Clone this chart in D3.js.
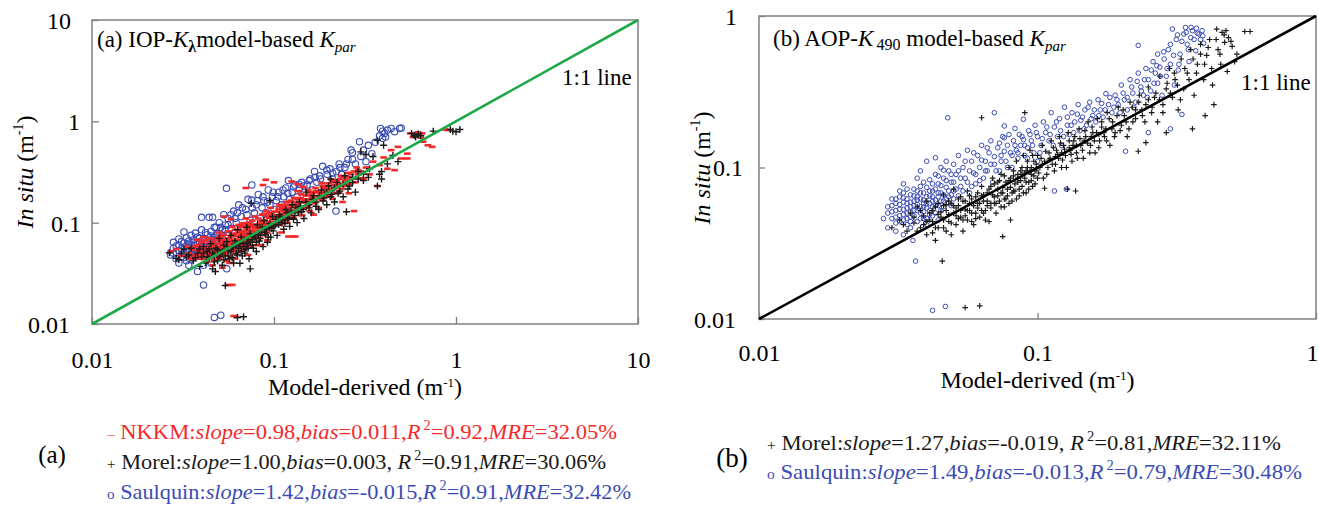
<!DOCTYPE html>
<html>
<head>
<meta charset="utf-8">
<script src="https://cdn.jsdelivr.net/npm/d3@7/dist/d3.min.js"></script>
<style>
  html, body { margin: 0; padding: 0; background: #fff; }
  svg { display: block; font-family: "Liberation Serif", "Times New Roman", serif; }
</style>
</head>
<body>
<svg id="chart" width="1319" height="510"></svg>
<script>
// ---------- Panel (a): IOP-Kλ model-based Kpar, [model-derived, in situ] ----------
const nkkmA = [
  [0.027,0.052],[0.029,0.055],[0.031,0.047],[0.033,0.058],[0.034,0.050],[0.035,0.044],
  [0.036,0.054],[0.037,0.048],[0.038,0.060],[0.039,0.044],[0.040,0.052],[0.041,0.047],[0.042,0.058],[0.043,0.041],[0.044,0.050],[0.044,0.063],[0.045,0.046],[0.038,0.068],[0.041,0.072],[0.043,0.055],
  [0.046,0.053],[0.047,0.043],[0.047,0.061],[0.048,0.049],[0.049,0.056],[0.049,0.068],[0.050,0.045],[0.051,0.052],[0.051,0.074],[0.052,0.059],[0.053,0.048],[0.053,0.065],[0.054,0.055],[0.055,0.042],[0.055,0.062],[0.046,0.038],[0.050,0.080],[0.052,0.036],
  [0.056,0.050],[0.056,0.070],[0.057,0.058],[0.058,0.046],[0.058,0.064],[0.059,0.053],[0.060,0.077],[0.060,0.060],[0.061,0.049],[0.062,0.067],[0.062,0.056],[0.063,0.085],[0.064,0.061],[0.064,0.052],[0.065,0.072],[0.057,0.040],[0.059,0.091],[0.061,0.044],
  [0.066,0.058],[0.067,0.066],[0.067,0.080],[0.068,0.054],[0.069,0.072],[0.070,0.062],[0.071,0.088],[0.072,0.068],[0.073,0.058],[0.074,0.076],[0.075,0.095],[0.076,0.065],[0.077,0.083],[0.078,0.071],[0.079,0.060],[0.068,0.099],[0.070,0.110],[0.072,0.048],
  [0.081,0.078],[0.082,0.092],[0.083,0.070],[0.084,0.104],[0.086,0.085],[0.087,0.075],[0.088,0.098],[0.090,0.088],[0.091,0.115],[0.092,0.080],[0.094,0.096],[0.095,0.125],[0.097,0.090],[0.098,0.108],[0.085,0.060],[0.092,0.067],[0.096,0.140],[0.088,0.122],
  [0.101,0.098],[0.103,0.118],[0.105,0.105],[0.106,0.135],[0.108,0.095],[0.110,0.122],[0.112,0.110],[0.114,0.150],[0.116,0.128],[0.118,0.100],[0.120,0.140],[0.122,0.118],[0.124,0.165],[0.126,0.132],[0.128,0.112],[0.120,0.073],[0.127,0.073],[0.110,0.080],
  [0.132,0.148],[0.135,0.128],[0.138,0.170],[0.140,0.140],[0.143,0.118],[0.146,0.158],[0.150,0.185],[0.153,0.145],[0.157,0.130],[0.160,0.170],[0.164,0.200],[0.168,0.155],[0.172,0.182],[0.176,0.140],[0.135,0.205],[0.145,0.225],[0.165,0.120],
  [0.182,0.195],[0.186,0.165],[0.190,0.220],[0.195,0.180],[0.200,0.245],[0.205,0.205],[0.210,0.172],[0.215,0.235],[0.222,0.260],[0.228,0.200],[0.235,0.215],[0.242,0.280],[0.250,0.235],[0.258,0.195],[0.238,0.160],
  [0.265,0.300],[0.275,0.130],[0.280,0.250],[0.290,0.330],[0.300,0.275],[0.310,0.270],[0.320,0.350],[0.335,0.300],[0.350,0.400],[0.370,0.230],[0.380,0.370],[0.400,0.440],[0.420,0.340],[0.440,0.520],[0.460,0.330],
  [0.500,0.430],[0.540,0.430],[0.560,0.760],[0.580,0.700],[0.600,0.730],[0.620,0.780],[0.640,0.690],[0.660,0.630],[0.700,0.580],[0.740,0.560],[0.650,0.760],[0.870,0.830],[0.900,0.820],[0.540,0.480],[0.480,0.560],
  [0.056,0.0243],[0.059,0.0243],[0.060,0.0120],[0.062,0.0117],[0.087,0.235],[0.070,0.220],[0.131,0.073],
  [0.090,0.265],[0.100,0.250],[0.125,0.255],[0.135,0.240],[0.053,0.115],[0.058,0.108],
  [0.036,0.047],[0.037,0.058],[0.038,0.045],[0.039,0.053],[0.040,0.064],[0.040,0.049],[0.041,0.056],[0.042,0.044],[0.042,0.067],[0.043,0.050],[0.044,0.057],[0.045,0.070],[0.045,0.054],[0.046,0.048],[0.046,0.064],[0.047,0.058],[0.047,0.052],[0.048,0.067],[0.048,0.044],[0.049,0.061],
  [0.049,0.050],[0.050,0.057],[0.050,0.072],[0.051,0.047],[0.051,0.063],[0.052,0.054],[0.052,0.068],[0.053,0.058],[0.053,0.076],[0.054,0.050],[0.054,0.062],[0.055,0.070],[0.055,0.055],[0.056,0.060],[0.056,0.082],[0.057,0.066],[0.057,0.052],[0.058,0.073],[0.058,0.057],[0.059,0.062],
  [0.059,0.078],[0.060,0.054],[0.060,0.068],[0.061,0.085],[0.061,0.058],[0.062,0.074],[0.062,0.062],[0.063,0.053],[0.063,0.068],[0.064,0.080],[0.064,0.095],[0.065,0.058],[0.065,0.064],[0.066,0.076],[0.066,0.090],[0.067,0.060],[0.068,0.070],[0.068,0.083],[0.069,0.064],[0.069,0.094],
  [0.070,0.076],[0.070,0.068],[0.071,0.060],[0.071,0.080],[0.072,0.090],[0.072,0.075],[0.073,0.100],[0.073,0.066],[0.074,0.085],[0.075,0.072],[0.075,0.080],[0.076,0.105],[0.077,0.070],[0.077,0.092],[0.078,0.080],[0.078,0.115],[0.079,0.088],[0.080,0.070],[0.080,0.096],[0.082,0.082],
  [0.082,0.110],[0.083,0.088],[0.084,0.076],[0.085,0.098],[0.086,0.120],[0.087,0.090],[0.088,0.082],[0.089,0.105],[0.090,0.095],[0.091,0.130],[0.092,0.100],[0.093,0.088],[0.094,0.112],[0.096,0.102],[0.097,0.120],[0.099,0.095],[0.100,0.110],[0.102,0.128],[0.104,0.098],[0.106,0.118],
  [0.108,0.145],[0.110,0.108],[0.112,0.130],[0.115,0.118],[0.118,0.140],[0.121,0.160],[0.125,0.125],[0.130,0.160],[0.134,0.140],[0.140,0.175],[0.148,0.165],[0.155,0.200],[0.162,0.180],[0.170,0.205],[0.178,0.195],[0.185,0.230],[0.192,0.205],[0.200,0.215],[0.210,0.250],[0.220,0.230],
  [0.232,0.270],[0.245,0.250],[0.260,0.280],[0.275,0.320],[0.290,0.300],
  [0.100,0.128],[0.104,0.112],[0.107,0.150],[0.111,0.140],[0.115,0.108],[0.117,0.160],[0.119,0.125],[0.123,0.150],[0.127,0.145],[0.129,0.175],[0.133,0.155],[0.137,0.135],[0.141,0.190],[0.144,0.160],[0.148,0.140],[0.151,0.170],[0.154,0.210],[0.158,0.160],[0.161,0.190],[0.166,0.170],
  [0.169,0.220],[0.174,0.200],[0.179,0.170],[0.183,0.245],[0.188,0.210],[0.193,0.190],[0.198,0.230],[0.203,0.185],[0.207,0.265],[0.213,0.215],[0.219,0.195],[0.226,0.240],[0.233,0.290],[0.240,0.230],[0.248,0.265],[0.255,0.310],[0.262,0.240],[0.270,0.270],[0.285,0.350],[0.300,0.320]
];

const morelA = [
  [0.0266,0.0505],[0.029,0.0445],[0.031,0.050],[0.033,0.046],[0.035,0.056],[0.036,0.042],[0.038,0.050],[0.039,0.037],
  [0.040,0.046],[0.041,0.058],[0.042,0.040],[0.043,0.052],[0.044,0.045],[0.045,0.062],[0.046,0.035],[0.047,0.048],[0.048,0.056],[0.0476,0.033],[0.049,0.042],[0.050,0.070],[0.051,0.050],[0.052,0.038],[0.053,0.060],[0.054,0.024],[0.054,0.047],[0.055,0.065],
  [0.056,0.053],[0.057,0.044],[0.058,0.075],[0.059,0.058],[0.060,0.040],[0.061,0.066],[0.062,0.050],[0.063,0.085],[0.064,0.056],[0.065,0.0397],[0.066,0.072],[0.067,0.047],[0.068,0.063],[0.070,0.055],[0.071,0.090],[0.072,0.068],[0.073,0.044],[0.074,0.035],[0.074,0.078],[0.063,0.0116],[0.068,0.0118],
  [0.076,0.060],[0.078,0.072],[0.080,0.052],[0.081,0.095],[0.083,0.066],[0.085,0.080],[0.087,0.058],[0.088,0.105],[0.090,0.076],[0.092,0.064],[0.094,0.090],[0.096,0.072],[0.098,0.115],[0.099,0.083],
  [0.102,0.095],[0.104,0.075],[0.107,0.120],[0.110,0.100],[0.113,0.086],[0.116,0.135],[0.119,0.108],[0.122,0.092],[0.126,0.150],[0.130,0.118],[0.134,0.100],[0.138,0.160],[0.142,0.128],[0.146,0.110],[0.150,0.200],[0.075,0.155],[0.095,0.165],
  [0.155,0.150],[0.160,0.125],[0.165,0.185],[0.170,0.160],[0.176,0.135],[0.182,0.210],[0.188,0.175],[0.195,0.150],[0.200,0.230],[0.208,0.190],[0.215,0.160],[0.222,0.250],[0.230,0.205],[0.240,0.180],[0.250,0.128],[0.245,0.290],[0.205,0.270],
  [0.260,0.230],[0.270,0.280],[0.280,0.200],[0.290,0.320],[0.300,0.500],[0.310,0.260],[0.320,0.470],[0.335,0.340],[0.350,0.450],[0.370,0.230],[0.370,0.650],[0.380,0.300],[0.390,0.270],[0.390,0.320],[0.400,0.580],[0.420,0.380],[0.450,0.460],[0.480,0.400],
  [0.570,0.760],[0.590,0.730],[0.600,0.700],[0.620,0.750],[0.640,0.720],[0.930,0.830],[0.960,0.800],[1.000,0.790],[1.050,0.830],[0.750,0.800],
  [0.030,0.043],[0.032,0.055],[0.034,0.048],[0.037,0.045],[0.039,0.055],[0.041,0.050],[0.043,0.046],[0.044,0.055],[0.046,0.050],[0.047,0.041],[0.049,0.054],[0.050,0.046],[0.052,0.052],[0.053,0.043],[0.055,0.058],[0.056,0.047],[0.058,0.052],[0.059,0.045],[0.060,0.058],[0.062,0.060],
  [0.063,0.048],[0.065,0.062],[0.066,0.052],[0.068,0.058],[0.069,0.050],[0.071,0.062],[0.072,0.056],[0.074,0.064],[0.076,0.068],[0.077,0.056],[0.079,0.074],[0.080,0.064],[0.082,0.076],[0.084,0.070],[0.086,0.090],[0.089,0.080],[0.091,0.085],[0.093,0.072],[0.095,0.098],[0.097,0.088],
  [0.100,0.092],[0.103,0.108],[0.106,0.096],[0.109,0.115],[0.112,0.105],[0.115,0.098],[0.118,0.125],[0.121,0.112],[0.124,0.130],[0.128,0.108],[0.132,0.140],[0.136,0.125],[0.140,0.145],[0.145,0.135],[0.150,0.160],[0.156,0.140],[0.163,0.170],[0.170,0.145],[0.178,0.185],[0.186,0.165],
  [0.195,0.200],[0.205,0.180],[0.215,0.220],[0.225,0.195],[0.240,0.240],[0.255,0.215],[0.270,0.250],[0.290,0.270],[0.310,0.300],[0.330,0.280]
];

const saulquinA = [
  [0.027,0.048],[0.028,0.056],[0.028,0.064],[0.029,0.044],[0.029,0.051],[0.030,0.060],[0.030,0.069],[0.031,0.046],[0.031,0.055],[0.032,0.081],[0.032,0.050],[0.032,0.063],[0.033,0.042],[0.033,0.058],[0.033,0.071],[0.034,0.053],[0.034,0.047],[0.034,0.066],[0.035,0.060],[0.035,0.075],[0.035,0.043],
  [0.036,0.055],[0.036,0.068],[0.036,0.050],[0.037,0.062],[0.037,0.079],[0.037,0.046],[0.038,0.057],[0.038,0.072],[0.038,0.052],[0.039,0.065],[0.039,0.048],[0.040,0.060],[0.040,0.085],[0.040,0.113],[0.041,0.054],[0.041,0.070],[0.042,0.063],[0.042,0.049],[0.043,0.076],[0.043,0.058],
  [0.044,0.113],[0.044,0.067],[0.045,0.052],[0.045,0.082],[0.046,0.061],[0.046,0.113],[0.047,0.072],[0.047,0.056],[0.048,0.090],[0.048,0.065],[0.049,0.078],[0.050,0.060],[0.050,0.100],[0.051,0.070],[0.052,0.085],[0.053,0.120],[0.054,0.095],[0.055,0.075],[0.056,0.110],
  [0.030,0.040],[0.034,0.038],[0.038,0.033],[0.041,0.038],[0.045,0.040],[0.055,0.035],
  [0.0548,0.218],[0.041,0.0243],[0.047,0.0116],[0.051,0.0122],
  [0.058,0.088],[0.060,0.130],[0.062,0.100],[0.064,0.150],[0.066,0.115],[0.068,0.090],[0.070,0.135],[0.072,0.170],[0.074,0.105],[0.0755,0.236],[0.0755,0.167],[0.078,0.125],[0.080,0.150],[0.082,0.190],[0.084,0.110],[0.086,0.140],[0.088,0.165],[0.090,0.125],[0.093,0.210],[0.095,0.150],[0.098,0.180],[0.100,0.135],
  [0.103,0.165],[0.106,0.200],[0.110,0.150],[0.113,0.180],[0.116,0.220],[0.120,0.260],[0.122,0.170],[0.126,0.200],[0.130,0.235],[0.134,0.180],[0.138,0.215],[0.142,0.250],[0.147,0.200],[0.152,0.235],[0.158,0.270],[0.163,0.210],[0.167,0.320],[0.172,0.250],[0.178,0.290],[0.185,0.360],
  [0.190,0.230],[0.196,0.300],[0.203,0.340],[0.210,0.270],[0.219,0.130],[0.220,0.320],[0.228,0.380],[0.235,0.300],[0.245,0.350],[0.255,0.420],[0.265,0.520],[0.270,0.490],[0.280,0.380],[0.295,0.630],[0.300,0.450],[0.310,0.520],[0.320,0.400],[0.330,0.580],[0.345,0.480],[0.360,0.620],
  [0.385,0.850],[0.395,0.800],[0.405,0.760],[0.410,0.700],[0.420,0.820],[0.440,0.850],[0.460,0.790],[0.490,0.850],[0.500,0.860],[0.380,0.720],[0.395,0.680],
  [0.028,0.050],[0.029,0.059],[0.030,0.053],[0.031,0.065],[0.032,0.045],[0.033,0.054],[0.034,0.061],[0.035,0.050],[0.036,0.064],[0.036,0.046],[0.037,0.053],[0.038,0.062],[0.039,0.070],[0.039,0.057],[0.040,0.050],[0.041,0.062],[0.042,0.055],[0.042,0.080],[0.043,0.066],[0.044,0.058],
  [0.045,0.074],[0.046,0.068],[0.047,0.090],[0.048,0.075],[0.049,0.068],[0.051,0.090],[0.052,0.075],[0.054,0.085],[0.056,0.095],[0.058,0.120],[0.061,0.110],[0.063,0.125],[0.067,0.140],[0.071,0.120],[0.076,0.140],[0.081,0.165],[0.087,0.180],[0.092,0.160],[0.099,0.200],[0.105,0.180],
  [0.112,0.210],[0.119,0.195],[0.128,0.225],[0.137,0.240],[0.146,0.230],[0.156,0.260],[0.168,0.280],[0.180,0.270],[0.195,0.330],[0.210,0.310],[0.230,0.350],[0.250,0.380],[0.270,0.420]
];

// ---------- Panel (b): AOP-K490 model-based Kpar ----------
const morelB = [
  [0.030,0.040],[0.032,0.045],[0.034,0.038],[0.035,0.050],[0.036,0.043],[0.037,0.055],[0.038,0.040],[0.039,0.048],[0.040,0.060],[0.040,0.036],[0.041,0.045],[0.042,0.052],[0.043,0.033],[0.043,0.040],[0.044,0.058],[0.045,0.047],[0.0455,0.0241],[0.046,0.040],[0.046,0.066],[0.047,0.052],
  [0.048,0.044],[0.048,0.060],[0.049,0.036],[0.050,0.050],[0.050,0.072],[0.051,0.042],[0.052,0.056],[0.053,0.047],[0.053,0.064],[0.054,0.038],[0.055,0.053],[0.055,0.0119],[0.056,0.045],[0.056,0.070],[0.057,0.058],[0.058,0.050],[0.059,0.042],[0.060,0.064],[0.061,0.054],[0.062,0.0122],
  [0.062,0.047],[0.063,0.213],[0.063,0.075],[0.064,0.060],[0.065,0.052],[0.066,0.068],[0.067,0.044],[0.068,0.058],[0.069,0.085],[0.070,0.064],[0.071,0.050],[0.072,0.072],[0.073,0.060],[0.074,0.090],[0.075,0.035],[0.075,0.068],[0.076,0.055],[0.077,0.080],[0.078,0.065],[0.079,0.100],
  [0.080,0.045],[0.080,0.074],[0.081,0.060],[0.082,0.088],[0.083,0.070],[0.084,0.110],[0.085,0.080],[0.086,0.065],[0.087,0.095],[0.088,0.075],[0.089,0.120],[0.090,0.230],[0.090,0.085],[0.091,0.068],[0.092,0.100],[0.093,0.080],[0.094,0.130],[0.095,0.090],[0.096,0.075],[0.097,0.110],
  [0.098,0.095],[0.100,0.085],[0.100,0.120],[0.102,0.100],[0.104,0.140],[0.106,0.073],[0.106,0.110],[0.108,0.090],[0.110,0.125],[0.112,0.150],[0.113,0.105],[0.115,0.095],[0.117,0.130],[0.119,0.115],[0.120,0.160],[0.122,0.100],[0.124,0.140],[0.126,0.120],[0.128,0.072],[0.129,0.170],
  [0.131,0.130],[0.133,0.110],[0.135,0.150],[0.137,0.070],[0.138,0.125],[0.141,0.180],[0.143,0.140],[0.146,0.115],[0.149,0.160],[0.152,0.200],[0.155,0.140],[0.158,0.170],[0.161,0.125],[0.164,0.210],[0.167,0.150],[0.170,0.185],[0.174,0.160],[0.178,0.230],[0.182,0.140],[0.186,0.200],
  [0.190,0.170],[0.195,0.250],[0.200,0.190],[0.205,0.220],[0.210,0.160],[0.215,0.270],[0.220,0.200],[0.225,0.240],[0.230,0.128],[0.232,0.300],[0.238,0.220],[0.245,0.146],[0.245,0.260],[0.250,0.340],[0.257,0.230],[0.263,0.290],[0.270,0.200],[0.275,0.400],[0.282,0.260],[0.290,0.170],
  [0.290,0.330],[0.298,0.450],[0.305,0.290],[0.312,0.380],[0.320,0.240],[0.328,0.520],[0.335,0.330],[0.345,0.420],[0.355,0.600],[0.360,0.180],[0.365,0.300],[0.375,0.480],[0.385,0.650],[0.395,0.380],[0.400,0.220],[0.405,0.550],[0.415,0.700],[0.425,0.350],[0.430,0.260],[0.440,0.820],
  [0.445,0.600],[0.455,0.480],[0.460,0.780],[0.470,0.670],[0.480,0.430],[0.485,0.720],[0.500,0.630],[0.510,0.500],[0.555,0.790],[0.580,0.790],
  [0.033,0.042],[0.036,0.047],[0.038,0.052],[0.039,0.042],[0.041,0.050],[0.042,0.044],[0.043,0.055],[0.044,0.040],[0.045,0.051],[0.046,0.045],[0.047,0.057],[0.048,0.049],[0.049,0.043],[0.050,0.056],[0.051,0.048],[0.052,0.062],[0.053,0.052],[0.054,0.045],[0.055,0.060],[0.056,0.052],
  [0.057,0.065],[0.058,0.044],[0.059,0.056],[0.060,0.050],[0.061,0.068],[0.062,0.058],[0.063,0.052],[0.064,0.066],[0.065,0.045],[0.066,0.060],[0.067,0.072],[0.068,0.054],[0.069,0.066],[0.070,0.078],[0.071,0.058],[0.072,0.065],[0.073,0.082],[0.074,0.055],[0.075,0.074],[0.076,0.088],
  [0.077,0.062],[0.078,0.072],[0.079,0.058],[0.080,0.085],[0.081,0.068],[0.082,0.095],[0.083,0.078],[0.084,0.062],[0.085,0.090],[0.086,0.072],[0.087,0.082],[0.088,0.100],[0.089,0.068],[0.090,0.092],[0.091,0.080],[0.092,0.110],[0.093,0.072],[0.094,0.095],[0.095,0.082],[0.096,0.120],
  [0.097,0.088],[0.098,0.078],[0.099,0.105],[0.101,0.092],[0.103,0.115],[0.105,0.085],[0.107,0.128],[0.109,0.100],[0.111,0.115],[0.114,0.135],[0.116,0.105],[0.118,0.122],[0.121,0.145],[0.123,0.112],[0.125,0.132],[0.127,0.100],[0.130,0.150],[0.132,0.122],[0.134,0.140],[0.136,0.160],
  [0.139,0.115],[0.142,0.155],[0.145,0.130],[0.148,0.175],[0.151,0.145],[0.154,0.125],[0.157,0.185],[0.160,0.150],[0.163,0.170],[0.166,0.135],[0.170,0.200],[0.173,0.170],[0.177,0.150],[0.181,0.210],[0.185,0.180],[0.189,0.160],[0.193,0.220],[0.198,0.175],[0.203,0.240],[0.208,0.200],
  [0.213,0.180],[0.219,0.250],[0.225,0.210],[0.231,0.270],[0.237,0.240],[0.243,0.200],[0.250,0.280],[0.258,0.250],[0.266,0.310],[0.274,0.280],[0.282,0.230],[0.292,0.360],[0.300,0.310],[0.310,0.420],[0.318,0.350],[0.326,0.280],[0.338,0.450],[0.350,0.380],[0.362,0.520],[0.372,0.420],
  [0.385,0.560],[0.398,0.480],[0.410,0.620],[0.422,0.450],[0.438,0.700],[0.452,0.560],[0.468,0.750],[0.475,0.800],[0.495,0.680],[0.520,0.560],
  [0.037,0.038],[0.040,0.044],[0.042,0.037],[0.044,0.049],[0.046,0.056],[0.047,0.038],[0.049,0.058],[0.051,0.054],[0.052,0.046],[0.054,0.060],[0.055,0.048],[0.057,0.052],[0.058,0.062],[0.060,0.046],[0.061,0.058],[0.063,0.065],[0.064,0.050],[0.066,0.056],[0.068,0.075],[0.070,0.058],
  [0.072,0.080],[0.074,0.068],[0.076,0.062],[0.079,0.082],[0.082,0.070],[0.085,0.085],[0.088,0.090],[0.091,0.095],[0.095,0.100],[0.099,0.098],[0.104,0.105],[0.110,0.112],[0.116,0.118],[0.122,0.125],[0.130,0.135],[0.138,0.140],[0.147,0.150],[0.156,0.160],[0.166,0.165],[0.176,0.180]
];

const saulquinB = [
  [0.029,0.050],[0.030,0.046],[0.030,0.056],[0.031,0.043],[0.031,0.052],[0.031,0.062],[0.032,0.048],[0.032,0.057],[0.032,0.070],[0.033,0.045],[0.033,0.053],[0.033,0.063],[0.033,0.078],[0.034,0.050],[0.034,0.058],[0.034,0.042],[0.035,0.055],[0.035,0.066],[0.035,0.047],[0.036,0.060],
  [0.036,0.052],[0.036,0.072],[0.037,0.044],[0.037,0.057],[0.037,0.064],[0.038,0.050],[0.038,0.068],[0.038,0.095],[0.039,0.055],[0.039,0.061],[0.039,0.046],[0.040,0.074],[0.040,0.058],[0.040,0.110],[0.041,0.052],[0.041,0.065],[0.041,0.083],[0.042,0.060],[0.042,0.048],[0.042,0.070],
  [0.043,0.056],[0.043,0.090],[0.043,0.116],[0.044,0.064],[0.044,0.078],[0.045,0.052],[0.045,0.068],[0.045,0.100],[0.046,0.060],[0.046,0.085],[0.047,0.074],[0.047,0.110],[0.048,0.064],[0.048,0.095],[0.049,0.080],[0.049,0.056],[0.050,0.070],[0.050,0.105],
  [0.031,0.038],[0.033,0.036],[0.0357,0.033],[0.035,0.040],[0.040,0.042],[0.044,0.045],[0.028,0.046],[0.029,0.040],
  [0.0476,0.213],[0.0365,0.0241],[0.042,0.0114],[0.0467,0.0121],
  [0.051,0.090],[0.052,0.120],[0.053,0.075],[0.054,0.100],[0.055,0.085],[0.056,0.130],[0.057,0.068],[0.058,0.110],[0.059,0.092],[0.060,0.078],[0.061,0.120],[0.062,0.100],[0.063,0.140],[0.064,0.085],[0.065,0.110],[0.066,0.095],[0.067,0.125],[0.068,0.150],[0.069,0.080],[0.070,0.230],
  [0.070,0.105],[0.072,0.135],[0.073,0.095],[0.074,0.120],[0.075,0.160],[0.076,0.188],[0.076,0.157],[0.077,0.110],[0.078,0.140],[0.080,0.125],[0.081,0.100],[0.082,0.150],[0.083,0.181],[0.084,0.130],[0.085,0.115],[0.086,0.165],[0.087,0.140],[0.089,0.208],[0.089,0.153],[0.090,0.120],
  [0.092,0.135],[0.093,0.175],[0.095,0.150],[0.097,0.125],[0.098,0.190],[0.100,0.160],[0.100,0.110],[0.103,0.140],[0.105,0.200],[0.107,0.170],[0.110,0.150],[0.112,0.230],[0.115,0.185],[0.115,0.070],[0.118,0.160],[0.120,0.210],[0.122,0.140],[0.125,0.250],[0.127,0.072],[0.128,0.190],
  [0.130,0.165],[0.133,0.230],[0.136,0.200],[0.140,0.260],[0.142,0.175],[0.145,0.215],[0.148,0.240],[0.150,0.190],[0.154,0.270],[0.158,0.220],[0.162,0.200],[0.165,0.280],[0.168,0.240],[0.172,0.215],[0.176,0.307],[0.180,0.260],[0.185,0.230],[0.190,0.300],[0.195,0.260],[0.200,0.350],
  [0.205,0.280],[0.207,0.128],[0.210,0.240],[0.215,0.380],[0.220,0.310],[0.225,0.270],[0.230,0.640],[0.230,0.420],[0.235,0.340],[0.240,0.300],[0.245,0.450],[0.250,0.170],[0.250,0.380],[0.255,0.320],[0.260,0.500],[0.265,0.420],[0.270,0.560],[0.270,0.360],[0.275,0.460],[0.280,0.300],
  [0.285,0.520],[0.290,0.400],[0.295,0.600],[0.300,0.180],[0.300,0.480],[0.305,0.820],[0.310,0.350],[0.315,0.700],[0.320,0.440],[0.325,0.560],[0.330,0.224],[0.335,0.760],[0.340,0.840],[0.345,0.650],[0.350,0.500],[0.355,0.720],[0.360,0.800],[0.370,0.590],[0.375,0.770],[0.385,0.700],
  [0.390,0.800],[0.395,0.660],
  [0.029,0.055],[0.030,0.051],[0.030,0.062],[0.031,0.047],[0.031,0.058],[0.032,0.053],[0.032,0.064],[0.032,0.044],[0.033,0.049],[0.033,0.059],[0.033,0.068],[0.034,0.046],[0.034,0.054],[0.034,0.062],[0.034,0.072],[0.035,0.051],[0.035,0.059],[0.035,0.044],[0.036,0.056],[0.036,0.065],
  [0.036,0.048],[0.037,0.052],[0.037,0.061],[0.037,0.070],[0.037,0.085],[0.038,0.046],[0.038,0.055],[0.038,0.062],[0.038,0.075],[0.039,0.051],[0.039,0.058],[0.039,0.068],[0.039,0.080],[0.040,0.046],[0.040,0.054],[0.040,0.064],[0.041,0.049],[0.041,0.058],[0.041,0.070],[0.042,0.055],
  [0.042,0.064],[0.042,0.078],[0.043,0.050],[0.043,0.061],[0.043,0.072],[0.044,0.056],[0.044,0.068],[0.044,0.088],[0.045,0.060],[0.045,0.076],[0.046,0.055],[0.046,0.066],[0.046,0.096],[0.047,0.062],[0.047,0.082],[0.048,0.070],[0.048,0.058],[0.049,0.066],[0.049,0.090],[0.050,0.062],
  [0.050,0.080],[0.051,0.072],[0.052,0.065],[0.052,0.095],[0.053,0.085],[0.054,0.070],[0.055,0.110],[0.056,0.080],[0.057,0.095],[0.058,0.075],[0.059,0.125],[0.060,0.090],[0.062,0.082],[0.063,0.112],[0.065,0.095],[0.066,0.135],[0.068,0.105],[0.070,0.118],[0.071,0.095],[0.073,0.145],
  [0.074,0.110],[0.076,0.128],[0.078,0.100],[0.079,0.165],[0.081,0.120],[0.083,0.140],[0.085,0.125],[0.088,0.160],[0.090,0.140],[0.092,0.115],[0.094,0.165],[0.096,0.140],[0.099,0.170],[0.102,0.125],[0.104,0.155],[0.108,0.185],[0.111,0.165],[0.114,0.140],[0.117,0.200],[0.121,0.175],
  [0.124,0.160],[0.128,0.215],[0.132,0.190],[0.135,0.170],[0.139,0.225],[0.143,0.205],[0.147,0.180],[0.152,0.250],[0.156,0.210],[0.160,0.240],[0.166,0.220],[0.170,0.265],[0.175,0.240],[0.182,0.290],[0.188,0.250],[0.193,0.280],[0.198,0.230],[0.203,0.310],[0.210,0.290],[0.218,0.340],
  [0.222,0.250],[0.228,0.370],[0.236,0.320],[0.242,0.380],[0.248,0.290],[0.256,0.440],[0.262,0.360],[0.268,0.470],[0.276,0.400],[0.284,0.580],[0.292,0.450],[0.300,0.650],[0.308,0.550],[0.318,0.750],[0.322,0.480],[0.330,0.680],[0.342,0.780],[0.348,0.600],[0.356,0.840],[0.365,0.700],
  [0.372,0.830],[0.380,0.760],[0.392,0.740]
];

// Axis ticks (log decades) and 1:1 line ends
const ticksA = [0.01, 0.1, 1, 10];
const ticksB = [0.01, 0.1, 1];
const oneToOneA = [0.01, 10];
const oneToOneB = [0.01, 1];

// Statistics shown under each panel
const namesA  = ["NKKM", "Morel", "Saulquin"];
const slopesA = ["0.98", "1.00", "1.42"];
const biasesA = ["0.011", "0.003", "-0.015"];
const r2A     = ["0.92", "0.91", "0.91"];
const mreA    = ["32.05%", "30.06%", "32.42%"];

const namesB  = ["Morel", "Saulquin"];
const slopesB = ["1.27", "1.49"];
const biasesB = ["-0.019", "-0.013"];
const r2B     = ["0.81", "0.79"];
const mreB    = ["32.11%", "30.48%"];

// ---------- styles ----------
const RED = "#f42a2a", BLACK = "#1a1a1a", BLUE = "#3b4cb4", GREEN = "#1fa84a";
const FRAME = "#808080";
const FONT = '"Liberation Serif", "Times New Roman", serif';

const svg = d3.select("#chart");

function drawPanel(cfg) {
  const x = d3.scaleLog().domain(cfg.domain).range([cfg.left, cfg.right]);
  const y = d3.scaleLog().domain(cfg.domain).range([cfg.bottom, cfg.top]);
  const g = svg.append("g");

  // frame
  g.append("rect")
    .attr("x", cfg.left).attr("y", cfg.top)
    .attr("width", cfg.right - cfg.left).attr("height", cfg.bottom - cfg.top)
    .attr("fill", "none").attr("stroke", FRAME).attr("stroke-width", 1.5);

  // bottom axis: inward ticks
  const gx = g.append("g")
    .attr("transform", `translate(0,${cfg.bottom})`)
    .call(d3.axisBottom(x).tickValues(cfg.ticks).tickFormat(d => String(d))
      .tickSizeInner(-cfg.tickLen).tickSizeOuter(0));
  gx.attr("font-family", null).attr("font-size", null);
  gx.select(".domain").remove();
  gx.selectAll(".tick line").attr("stroke", FRAME).attr("stroke-width", 1.3);
  gx.selectAll(".tick text")
    .attr("x", d => cfg.xLabelShift.get(d) || 0)
    .attr("y", cfg.xLabelBase - cfg.bottom).attr("dy", 0)
    .attr("font-family", FONT).attr("font-size", 24).attr("fill", "#000");

  // left axis: inward ticks
  const gy = g.append("g")
    .attr("transform", `translate(${cfg.left},0)`)
    .call(d3.axisLeft(y).tickValues(cfg.ticks).tickFormat(d => String(d))
      .tickSizeInner(-cfg.tickLen).tickSizeOuter(0));
  gy.attr("font-family", null).attr("font-size", null);
  gy.select(".domain").remove();
  gy.selectAll(".tick line").attr("stroke", FRAME).attr("stroke-width", 1.3);
  gy.selectAll(".tick text")
    .attr("x", d => cfg.yLabelRight.get(d) - cfg.left)
    .attr("dy", "0.35em")
    .attr("font-family", FONT).attr("font-size", 24).attr("fill", "#000")
    .attr("text-anchor", "end");

  // points
  cfg.series.forEach(s => {
    const layer = g.append("g");
    if (s.shape === "circle") {
      layer.selectAll("circle").data(s.data).join("circle")
        .attr("cx", d => x(d[0])).attr("cy", d => y(d[1]))
        .attr("r", s.size).attr("fill", "none")
        .attr("stroke", s.color).attr("stroke-width", s.stroke);
    } else if (s.shape === "plus") {
      layer.selectAll("path").data(s.data).join("path")
        .attr("d", d => {
          const px = x(d[0]), py = y(d[1]), r = s.size;
          return `M${px - r},${py}H${px + r}M${px},${py - r}V${py + r}`;
        })
        .attr("stroke", s.color).attr("stroke-width", s.stroke).attr("fill", "none");
    } else {
      layer.selectAll("rect").data(s.data).join("rect")
        .attr("x", d => x(d[0]) - s.size).attr("y", d => y(d[1]) - s.stroke / 2)
        .attr("width", s.size * 2).attr("height", s.stroke)
        .attr("fill", s.color);
    }
  });

  // 1:1 line
  g.append("path")
    .datum(cfg.line)
    .attr("d", d3.line().x(d => x(d)).y(d => y(d)))
    .attr("stroke", cfg.lineColor).attr("stroke-width", 2.6).attr("fill", "none");

  // "1:1 line" label
  g.append("text")
    .attr("x", cfg.lineLabel[0]).attr("y", cfg.lineLabel[1])
    .attr("font-size", 23).attr("fill", "#000").text("1:1 line");

  // in-plot title
  const t = g.append("text")
    .attr("x", cfg.title[0]).attr("y", cfg.title[1])
    .attr("font-size", 23).attr("fill", "#000");
  cfg.titleParts.forEach(p => {
    const ts = t.append("tspan").text(p.t);
    if (p.i) ts.attr("font-style", "italic");
    if (p.b) ts.attr("font-weight", "bold");
    if (p.fs) ts.attr("font-size", p.fs);
    if (p.dy) ts.attr("dy", p.dy);
  });

  // x-axis title
  const xt = g.append("text")
    .attr("x", (cfg.left + cfg.right) / 2).attr("y", cfg.xTitleBase)
    .attr("text-anchor", "middle").attr("font-size", 24).attr("fill", "#000");
  xt.append("tspan").text("Model-derived (m");
  xt.append("tspan").attr("font-size", 13).attr("dy", -8).text("-1");
  xt.append("tspan").attr("dy", 8).text(")");

  // y-axis title
  const yt = g.append("text")
    .attr("transform", `translate(${cfg.yTitle[0]},${cfg.yTitle[1]}) rotate(-90)`)
    .attr("text-anchor", "middle").attr("font-size", 24).attr("fill", "#000");
  yt.append("tspan").attr("font-style", "italic").text("In situ");
  yt.append("tspan").text("\u00a0(m");
  yt.append("tspan").attr("font-size", 14).attr("dy", -10).text("-1");
  yt.append("tspan").attr("dy", 10).text(")");
}

function drawStats(cfg) {
  const g = svg.append("g");
  g.append("text")
    .attr("x", cfg.tag[0]).attr("y", cfg.tag[1])
    .attr("text-anchor", "middle").attr("font-size", cfg.tagSize).attr("fill", "#000")
    .text(cfg.tagText);
  cfg.names.forEach((name, i) => {
    const t = g.append("text")
      .attr("x", cfg.x).attr("y", cfg.baselines[i])
      .attr("font-size", 22).attr("fill", cfg.colors[i])
      .attr("textLength", cfg.widths[i]).attr("lengthAdjust", "spacingAndGlyphs");
    t.append("tspan").attr("font-size", 15).text(cfg.marks[i]);
    t.append("tspan").text("\u00a0" + name + ":");
    t.append("tspan").attr("font-style", "italic").text("slope");
    t.append("tspan").text("=" + cfg.slopes[i] + ",");
    t.append("tspan").attr("font-style", "italic").text("bias");
    t.append("tspan").text("=" + cfg.biases[i] + cfg.seps[i]);
    t.append("tspan").attr("font-style", "italic").text("R");
    t.append("tspan").attr("font-size", 14).attr("dy", -9).attr("dx", 3).text("2");
    t.append("tspan").attr("dy", 9).text("=" + cfg.r2[i] + ",");
    t.append("tspan").attr("font-style", "italic").text("MRE");
    t.append("tspan").text("=" + cfg.mre[i]);
  });
}

drawPanel({
  domain: [0.01, 10], left: 92, right: 638, top: 20, bottom: 324,
  ticks: ticksA, tickLen: 7, xLabelBase: 368, xTitleBase: 394.5,
  xLabelShift: new Map(),
  yLabelRight: new Map([[10, 71], [1, 80], [0.1, 81], [0.01, 70]]),
  yTitle: [33, 172],
  series: [
    { data: saulquinA, shape: "circle", size: 3.2, stroke: 1.1, color: BLUE },
    { data: nkkmA, shape: "dash", size: 3.3, stroke: 2.6, color: RED },
    { data: morelA, shape: "plus", size: 3.5, stroke: 1.4, color: BLACK }
  ],
  line: oneToOneA, lineColor: GREEN,
  lineLabel: [562, 85],
  title: [97, 47],
  titleParts: [
    { t: "(a) IOP-" }, { t: "K", i: true },
    { t: "\u03bb", b: true, fs: 16, dy: 5 },
    { t: "model-based ", dy: -5 }, { t: "K", i: true },
    { t: "par", i: true, fs: 15, dy: 5 }
  ]
});

drawPanel({
  domain: [0.01, 1], left: 759, right: 1316, top: 16, bottom: 319,
  ticks: ticksB, tickLen: 6, xLabelBase: 361, xTitleBase: 388,
  xLabelShift: new Map([[1, -4]]),
  yLabelRight: new Map([[1, 737], [0.1, 743], [0.01, 736]]),
  yTitle: [710, 168],
  series: [
    { data: saulquinB, shape: "circle", size: 2.3, stroke: 1, color: BLUE },
    { data: morelB, shape: "plus", size: 2.8, stroke: 1.15, color: BLACK }
  ],
  line: oneToOneB, lineColor: "#000",
  lineLabel: [1241, 90],
  title: [773, 46],
  titleParts: [
    { t: "(b) AOP-" }, { t: "K", i: true },
    { t: "\u2009490", fs: 16, dy: 4 },
    { t: " model-based ", dy: -4 }, { t: "K", i: true },
    { t: "par", i: true, fs: 15, dy: 5 }
  ]
});

drawStats({
  tag: [52, 463], tagSize: 25, tagText: "(a)",
  x: 107, baselines: [439, 469, 499], widths: [510, 499, 524],
  colors: [RED, BLACK, BLUE], marks: ["\u2013", "+", "o"],
  names: namesA, slopes: slopesA, biases: biasesA, r2: r2A, mre: mreA,
  seps: [",", ", ", ","]
});

drawStats({
  tag: [732, 467], tagSize: 27, tagText: "(b)",
  x: 767, baselines: [450, 479], widths: [514, 535],
  colors: [BLACK, BLUE], marks: ["+", "o"],
  names: namesB, slopes: slopesB, biases: biasesB, r2: r2B, mre: mreB,
  seps: [", ", ","]
});
</script>
</body>
</html>
